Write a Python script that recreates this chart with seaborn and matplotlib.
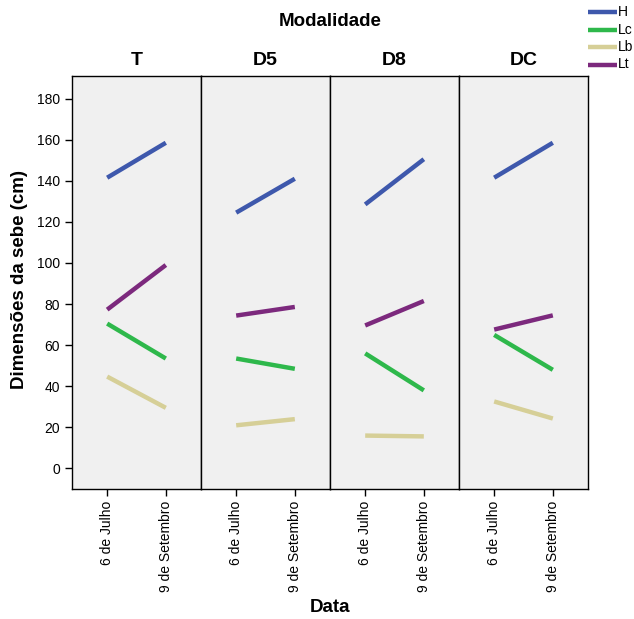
import matplotlib
matplotlib.use("Agg")
import matplotlib.pyplot as plt
import seaborn as sns
import pandas as pd
from matplotlib.lines import Line2D

modalidades = ["T", "D5", "D8", "DC"]
datas = ["6 de Julho", "9 de Setembro"]
series = ["H", "Lc", "Lb", "Lt"]
H = {"T": [141.5, 158.5], "D5": [124.5, 141], "D8": [128.5, 150.5], "DC": [141.5, 158.5]}
Lc = {"T": [70.5, 53.5], "D5": [53.5, 48.5], "D8": [56, 38], "DC": [65, 48]}
Lb = {"T": [44.7, 29.5], "D5": [21, 24], "D8": [16, 15.6], "DC": [32.6, 24.3]}
Lt = {"T": [77.3, 99], "D5": [74.4, 78.6], "D8": [69.6, 81.5], "DC": [67.6, 74.5]}
colors = {"H": "#3e58ac", "Lc": "#2eb84b", "Lb": "#d6cf97", "Lt": "#7c297d"}

rows = []
for name, d in zip(series, [H, Lc, Lb, Lt]):
    for m in modalidades:
        for i, dt in enumerate(datas):
            rows.append({"Modalidade": m, "Data": i, "Serie": name, "Valor": d[m][i]})
df = pd.DataFrame(rows)

sns.set_style("white")
plt.rcParams["font.family"] = ["Liberation Sans", "DejaVu Sans"]
for key in ["text.color", "axes.labelcolor", "xtick.color", "ytick.color"]:
    plt.rcParams[key] = "black"

fig = plt.figure(figsize=(6.34, 6.19), dpi=100)
left, right, bottom, top = 72 / 634, 588 / 634, 1 - 489 / 619, 1 - 76 / 619
w = (right - left) / 4
axes = []
for k, m in enumerate(modalidades):
    ax = fig.add_axes([left + k * w, bottom, w, top - bottom], sharey=axes[0] if axes else None)
    axes.append(ax)
    sub = df[df["Modalidade"] == m]
    sns.lineplot(data=sub, x="Data", y="Valor", hue="Serie", hue_order=series,
                 palette=colors, linewidth=3.2, legend=False, ax=ax,
                 solid_capstyle="butt")
    ax.set_facecolor("#f0f0f0")
    ax.set_xlim(-0.6, 1.6)
    ax.set_ylim(-10, 191)
    ax.set_xticks([0, 1])
    ax.set_xticklabels(datas, rotation=90, fontsize=10)
    ax.set_xlabel("")
    ax.set_ylabel("")
    ax.set_title(m, fontsize=14, fontweight="bold", pad=8)
    for s in ax.spines.values():
        s.set_color("black")
        s.set_linewidth(1.0)
    ax.tick_params(axis="x", direction="out", length=5, width=1, color="black", bottom=True)
    if k == 0:
        ax.set_yticks(range(0, 181, 20))
        ax.tick_params(axis="y", direction="out", length=5, width=1, color="black", left=True, labelsize=10)
    else:
        ax.tick_params(axis="y", left=False, labelleft=False)

fig.text((left + right) / 2, 1 - 22 / 619, "Modalidade", ha="center", va="center",
         fontsize=13.5, fontweight="bold")
fig.text((left + right) / 2, 1 - 607 / 619, "Data", ha="center", va="center",
         fontsize=13.5, fontweight="bold")
fig.text(20 / 634, (bottom + top) / 2 + 0.005, "Dimensões da sebe (cm)", rotation=90,
         ha="center", va="center", fontsize=13.5, fontweight="bold")

for i, s in enumerate(series):
    y = 1 - (12 + i * 17.5) / 619
    fig.add_artist(Line2D([588 / 634, 617 / 634], [y, y], color=colors[s], linewidth=3.2,
                          solid_capstyle="butt"))
    fig.text(618 / 634, y, s, ha="left", va="center", fontsize=10)

fig.savefig("out.png", dpi=100)
